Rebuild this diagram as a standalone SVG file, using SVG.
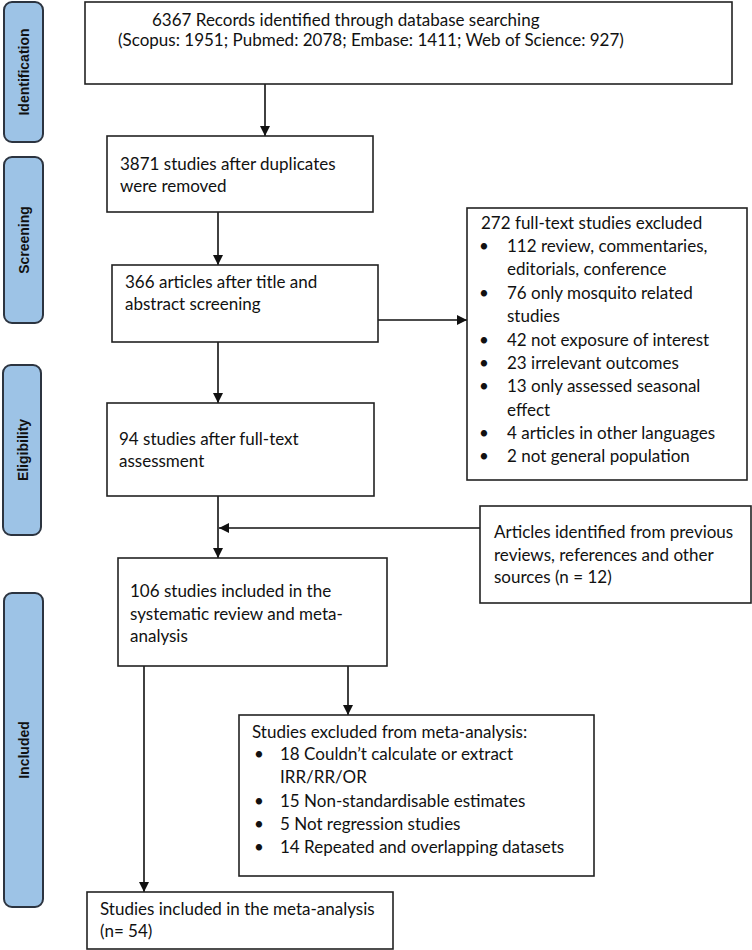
<svg xmlns="http://www.w3.org/2000/svg" width="752" height="950" viewBox="0 0 752 950">
<defs>
<style>
.tab{fill:#9dc3e6;stroke:#2c3440;stroke-width:2}
.tabt{font-family:"Liberation Sans",Arial,sans-serif;font-weight:bold;font-size:14px;fill:#111;text-anchor:middle}
.box{fill:#fff;stroke:#222;stroke-width:1.6}
.t{font-family:Lato,"Open Sans",sans-serif;font-size:17px;fill:#111}
.c{fill:none;stroke:#111;stroke-width:1.6}
</style>
<marker id="ah" viewBox="0 0 10 10" refX="10" refY="5" markerWidth="10" markerHeight="10" markerUnits="userSpaceOnUse" orient="auto">
<path d="M0,0 L10,5 L0,10 Z" fill="#111"/>
</marker>
</defs>
<rect width="752" height="950" fill="#fff"/>

<g id="tab-identification">
<rect class="tab" x="4" y="2" width="39" height="140" rx="8"/>
<text class="tabt" transform="translate(28.5,72) rotate(-90)">Identification</text>
</g>
<g id="tab-screening">
<rect class="tab" x="4" y="157" width="39" height="166" rx="8"/>
<text class="tabt" transform="translate(28.5,240) rotate(-90)">Screening</text>
</g>
<g id="tab-eligibility">
<rect class="tab" x="3" y="365" width="38" height="170" rx="8"/>
<text class="tabt" transform="translate(27.5,450) rotate(-90)">Eligibility</text>
</g>
<g id="tab-included">
<rect class="tab" x="4" y="593" width="39" height="314" rx="8"/>
<text class="tabt" transform="translate(28.5,750) rotate(-90)">Included</text>
</g>

<g id="connectors">
<line class="c" x1="265" y1="84" x2="265" y2="136" marker-end="url(#ah)"/>
<line class="c" x1="218" y1="212" x2="218" y2="265" marker-end="url(#ah)"/>
<line class="c" x1="378" y1="320" x2="467" y2="320" marker-end="url(#ah)"/>
<line class="c" x1="218" y1="342" x2="218" y2="403" marker-end="url(#ah)"/>
<line class="c" x1="218" y1="496" x2="218" y2="558" marker-end="url(#ah)"/>
<line class="c" x1="480" y1="528" x2="219" y2="528" marker-end="url(#ah)"/>
<line class="c" x1="144" y1="666" x2="144" y2="892" marker-end="url(#ah)"/>
<line class="c" x1="348" y1="666" x2="348" y2="715" marker-end="url(#ah)"/>
</g>

<g id="records">
<rect class="box" x="85" y="2" width="647" height="82"/>
<text class="t" x="152" y="26">6367 Records identified through database searching</text>
<text class="t" x="118" y="46">(Scopus: 1951; Pubmed: 2078; Embase: 1411; Web of Science: 927)</text>
</g>

<g id="duplicates">
<rect class="box" x="107" y="136" width="266" height="76"/>
<text class="t" x="120" y="170">3871 studies after duplicates</text>
<text class="t" x="120" y="192">were removed</text>
</g>

<g id="screened">
<rect class="box" x="112" y="265" width="266" height="77"/>
<text class="t" x="125" y="288">366 articles after title and</text>
<text class="t" x="125" y="310">abstract screening</text>
</g>

<g id="excluded-fulltext">
<rect class="box" x="467" y="208" width="280" height="272"/>
<text class="t" x="481" y="229">272 full-text studies excluded</text>
<g class="t">
<text x="479" y="252">•</text><text x="507" y="252">112 review, commentaries,</text>
<text x="507" y="275">editorials, conference</text>
<text x="479" y="299">•</text><text x="507" y="299">76 only mosquito related</text>
<text x="507" y="322">studies</text>
<text x="479" y="346">•</text><text x="507" y="346">42 not exposure of interest</text>
<text x="479" y="369">•</text><text x="507" y="369">23 irrelevant outcomes</text>
<text x="479" y="392">•</text><text x="507" y="392">13 only assessed seasonal</text>
<text x="507" y="416">effect</text>
<text x="479" y="439">•</text><text x="507" y="439">4 articles in other languages</text>
<text x="479" y="462">•</text><text x="507" y="462">2 not general population</text>
</g>
</g>

<g id="fulltext">
<rect class="box" x="107" y="403" width="267" height="93"/>
<text class="t" x="119" y="445">94 studies after full-text</text>
<text class="t" x="119" y="467">assessment</text>
</g>

<g id="other-sources">
<rect class="box" x="480" y="506" width="271" height="97"/>
<text class="t" x="494" y="538">Articles identified from previous</text>
<text class="t" x="494" y="561">reviews, references and other</text>
<text class="t" x="494" y="583">sources (n = 12)</text>
</g>

<g id="included-review">
<rect class="box" x="118" y="558" width="269" height="108"/>
<text class="t" x="130" y="597">106 studies included in the</text>
<text class="t" x="130" y="620">systematic review and meta-</text>
<text class="t" x="130" y="642">analysis</text>
</g>

<g id="excluded-meta">
<rect class="box" x="239" y="715" width="355" height="161"/>
<text class="t" x="252" y="738">Studies excluded from meta-analysis:</text>
<g class="t">
<text x="254" y="760">•</text><text x="280" y="760">18 Couldn’t calculate or extract</text>
<text x="280" y="783">IRR/RR/OR</text>
<text x="254" y="807">•</text><text x="280" y="807">15 Non-standardisable estimates</text>
<text x="254" y="830">•</text><text x="280" y="830">5 Not regression studies</text>
<text x="254" y="853">•</text><text x="280" y="853">14 Repeated and overlapping datasets</text>
</g>
</g>

<g id="meta-analysis">
<rect class="box" x="87" y="892" width="306" height="57"/>
<text class="t" x="100" y="915">Studies included in the meta-analysis</text>
<text class="t" x="100" y="937">(n= 54)</text>
</g>
</svg>
